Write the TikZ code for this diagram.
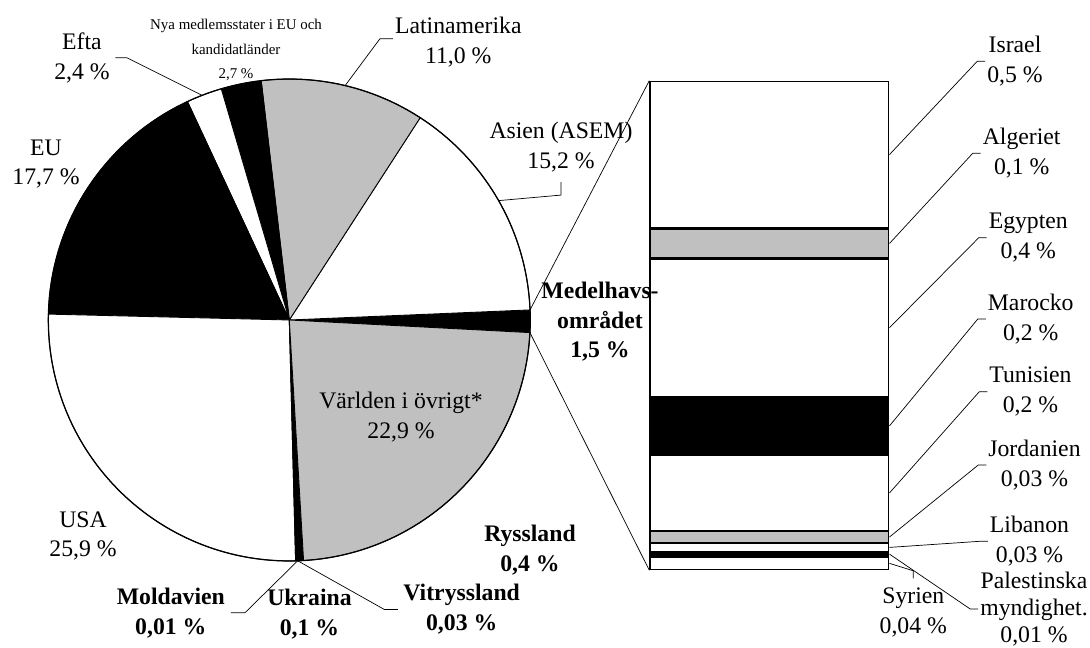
\documentclass[tikz,border=0pt]{standalone}
\usepackage{fontspec}
\setmainfont{Liberation Serif}
\usetikzlibrary{positioning}
\definecolor{piegray}{RGB}{192,192,192}

\begin{document}
\begin{tikzpicture}[x=0.02cm, y=-0.02cm, font=\fontsize{13.5}{17}\selectfont, inner sep=1pt, node distance=0cm,
    seg/.style={draw, line width=0.7pt, inner sep=0pt, minimum width=4.78cm},
    lbl/.style={align=center},
    blbl/.style={align=center, font=\fontsize{13.5}{17}\selectfont\bfseries},
    leader/.style={line width=0.4pt}]
    \useasboundingbox (0,0) rectangle (1090,648);
    \begin{scope}[shift={(289.3,320)}]
        \foreach \a/\b/\c in {-3/2.4/black, 2.4/57.1/white, 57.1/96.7/piegray, 96.7/106.4/black, 106.4/115/white, 115/178.6/black, 178.6/271.5/white, 271.5/273.4/black, 273.4/357/piegray}
            \filldraw[fill=\c, line width=0.5pt] (0,0) -- (\a:4.82cm) arc[start angle=\a, end angle=\b, radius=4.82cm] -- cycle;
        \draw[line width=0.7pt] (0,0) circle[radius=4.82cm];
        \coordinate (med-top) at (2.4:4.82cm);
        \coordinate (med-bot) at (-3:4.82cm);
        \coordinate (lat-pt) at (76.6:4.82cm);
        \coordinate (asien-pt) at (29.7:4.82cm);
        \coordinate (efta-pt) at (111.2:4.82cm);
        \coordinate (bot-pt) at (272:4.82cm);
    \end{scope}

    \node[lbl] (efta-lbl) at (82,57.7) {Efta\\2,4~\%};
    \node[lbl, font=\fontsize{8.5}{14}\selectfont] (nya-lbl) at (236,50) {Nya medlemsstater i EU och\\kandidatländer\\2,7~\%};
    \node[lbl] (lat-lbl) at (458.3,41.7) {Latinamerika\\11,0~\%};
    \node[lbl] (asien-lbl) at (561,147) {Asien (ASEM)\\15,2~\%};
    \node[lbl] (eu-lbl) at (46,164) {EU\\17,7~\%};
    \node[lbl] (usa-lbl) at (83,536) {USA\\25,9~\%};
    \node[lbl] (varld-lbl) at (401,417) {Världen i övrigt*\\22,9~\%};
    \node[blbl] (med-lbl) at (600,321.7) {Medelhavs-\\området\\1,5~\%};
    \node[blbl] (ryss-lbl) at (530,550) {Ryssland\\0,4~\%};
    \node[blbl] (vit-lbl) at (461.7,609.5) {Vitryssland\\0,03~\%};
    \node[blbl] (ukr-lbl) at (309.5,613.7) {Ukraina\\0,1~\%};
    \node[blbl] (mold-lbl) at (170.8,612.8) {Moldavien\\0,01~\%};

    \draw[leader] (lat-pt) -- ([xshift=-0.26cm, yshift=0.06cm]lat-lbl.west) -- ([yshift=0.06cm]lat-lbl.west);
    \draw[leader] (asien-pt) -- ([yshift=-0.42cm]asien-lbl.south) -- ([yshift=-0.16cm]asien-lbl.south);
    \draw[leader] (efta-pt) -- ([xshift=0.3cm]efta-lbl.east) -- ([xshift=0.07cm]efta-lbl.east);
    \draw[leader] (bot-pt) -- ([xshift=0.36cm]mold-lbl.east) -- ([xshift=0.08cm]mold-lbl.east);
    \draw[leader] (bot-pt) -- ([xshift=-0.34cm]vit-lbl.west) -- ([xshift=-0.07cm]vit-lbl.west);

    \node[seg, anchor=north west, minimum height=2.932cm] (israel) at (649.3,80.7) {};
    \node[seg, fill=piegray, below=of israel, minimum height=0.574cm] (algeriet) {};
    \node[seg, below=of algeriet, minimum height=2.746cm] (egypten) {};
    \node[seg, fill=black, below=of egypten, minimum height=1.134cm] (marocko) {};
    \node[seg, below=of marocko, minimum height=1.5cm] (tunisien) {};
    \node[seg, fill=piegray, below=of tunisien, minimum height=0.214cm] (jordanien) {};
    \node[seg, below=of jordanien, minimum height=0.152cm] (libanon) {};
    \node[seg, fill=black, below=of libanon, minimum height=0.068cm] (palest) {};
    \node[seg, below=of palest, minimum height=0.252cm] (syrien) {};

    \draw[leader] (med-top) -- (israel.north west);
    \draw[leader] (med-bot) -- (syrien.south west);

    \node[lbl] (israel-lbl) at (1015,61.3) {Israel\\0,5~\%};
    \node[lbl] (algeriet-lbl) at (1021.7,153.3) {Algeriet\\0,1~\%};
    \node[lbl] (egypten-lbl) at (1028.3,237.8) {Egypten\\0,4~\%};
    \node[lbl] (marocko-lbl) at (1030.7,319) {Marocko\\0,2~\%};
    \node[lbl] (tunisien-lbl) at (1030.5,391.7) {Tunisien\\0,2~\%};
    \node[lbl] (jordanien-lbl) at (1034.5,465) {Jordanien\\0,03~\%};
    \node[lbl] (libanon-lbl) at (1029.5,541.3) {Libanon\\0,03~\%};
    \node[lbl, font=\fontsize{13.5}{15.5}\selectfont] (palest-lbl) at (1034,609) {Palestinska\\myndighet.\\0,01~\%};
    \node[lbl] (syrien-lbl) at (913.3,612.5) {Syrien\\0,04~\%};

    \foreach \s in {israel, algeriet, egypten, marocko, tunisien, jordanien, libanon, palest}
        \draw[leader] (\s.east) -- ([xshift=-0.16cm]\s-lbl.west) -- (\s-lbl.west);
    \draw[leader] (syrien.east) -- ([yshift=0.3cm]syrien-lbl.north) -- ([yshift=0.15cm]syrien-lbl.north);
\end{tikzpicture}
\end{document}
